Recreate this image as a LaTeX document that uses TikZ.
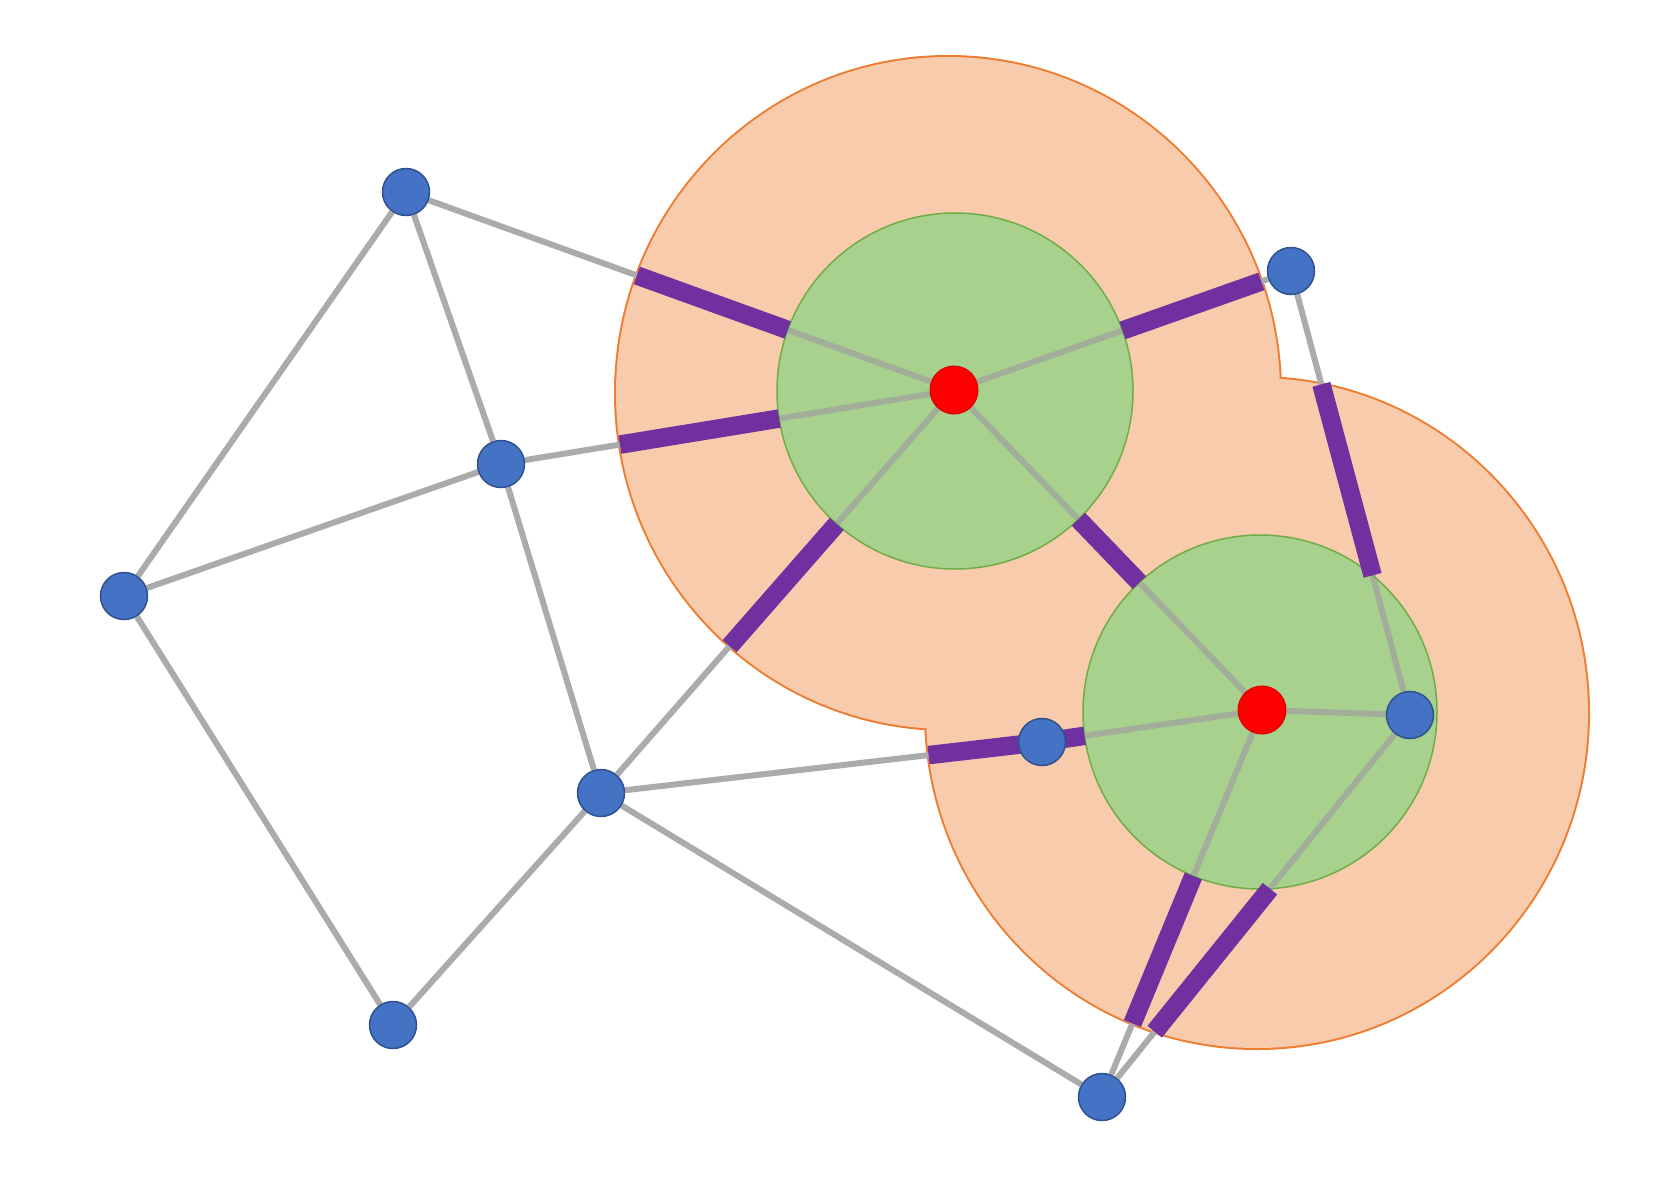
\documentclass[tikz,border=0pt]{standalone}
\usetikzlibrary{intersections}
\definecolor{ofill}{HTML}{F8CBAD}
\definecolor{oline}{HTML}{ED7D31}
\definecolor{gfill}{HTML}{A9D18E}
\definecolor{gline}{HTML}{70AD47}
\definecolor{nblue}{HTML}{4472C4}
\definecolor{nblueline}{HTML}{2F528F}
\definecolor{egray}{HTML}{ABABAB}
\definecolor{epurple}{HTML}{7030A0}
\pgfdeclarelayer{orangelayer}
\pgfdeclarelayer{edgelayer}
\pgfdeclarelayer{greenlayer}
\pgfdeclarelayer{purplelayer}
\pgfsetlayers{orangelayer,edgelayer,greenlayer,purplelayer,main}
\tikzset{
  bnode/.style={circle, fill=nblue, draw=nblueline, line width=0.03cm, minimum size=0.94cm, inner sep=0pt},
  rnode/.style={circle, fill=red, draw=red!85!black, line width=0.02cm, minimum size=0.96cm, inner sep=0pt},
  edge/.style={draw=egray, line width=0.12cm},
  edgein/.style={draw=egray!70!gfill!95!black, line width=0.12cm},
  pseg/.style={draw=epurple, line width=0.37cm},
  orangerim/.style={draw=oline, line width=0.08cm},
  greendisc/.style={fill=gfill, draw=gline, line width=0.03cm},
}
\newcommand\drawalledges[1]{%
  \draw[#1] (A) -- (B);
  \draw[#1] (A) -- (C);
  \draw[#1] (A) -- (R1);
  \draw[#1] (B) -- (C);
  \draw[#1] (B) -- (D);
  \draw[#1] (B) -- (R1);
  \draw[#1] (C) -- (E);
  \draw[#1] (D) -- (E);
  \draw[#1] (D) -- (R1);
  \draw[#1] (D) -- (G);
  \draw[#1] (D) -- (I);
  \draw[#1] (F) -- (R1);
  \draw[#1] (F) -- (H);
  \draw[#1] (G) -- (R2);
  \draw[#1] (R1) -- (R2);
  \draw[#1] (R2) -- (H);
  \draw[#1] (R2) -- (I);
  \draw[#1] (H) -- (I);
}
\begin{document}
\begin{tikzpicture}[x=0.02cm,y=-0.02cm]
\useasboundingbox (0,0) rectangle (1653,1177);
% nodes
\node[bnode] (A) at (406,192) {};
\node[bnode] (B) at (501,464) {};
\node[bnode] (C) at (124,596) {};
\node[bnode] (D) at (601,793) {};
\node[bnode] (E) at (393,1025) {};
\node[bnode] (F) at (1291,271) {};
\node[bnode] (G) at (1042,742) {};
\node[bnode] (H) at (1410,715) {};
\node[bnode] (I) at (1102,1097) {};
\node[rnode] (R1) at (954,390) {};
\node[rnode] (R2) at (1262,710) {};
% region outlines (for intersections)
\path[name path=o1] (948,393) ellipse [x radius=332, y radius=336];
\path[name path=o2] (1257,713) ellipse [x radius=331, y radius=335];
\path[name path=g1] (955,391) circle [radius=178];
\path[name path=g2] (1260,712) circle [radius=177];
% edge paths
\path[name path=eAR1] (A.center) -- (R1.center);
\path[name path=eBR1] (B.center) -- (R1.center);
\path[name path=eDR1] (D.center) -- (R1.center);
\path[name path=eFR1] (F.center) -- (R1.center);
\path[name path=eRR] (R1.center) -- (R2.center);
\path[name path=eFH] (F.center) -- (H.center);
\path[name path=eDG] (D.center) -- (G.center);
\path[name path=eGR] (G.center) -- (R2.center);
\path[name path=eRI] (R2.center) -- (I.center);
\path[name path=eHI] (H.center) -- (I.center);
% crossing points
\path[name intersections={of=eAR1 and o1, by={aO}}];
\path[name intersections={of=eAR1 and g1, by={aG}}];
\path[name intersections={of=eBR1 and o1, by={bO}}];
\path[name intersections={of=eBR1 and g1, by={bG}}];
\path[name intersections={of=eDR1 and o1, by={dO}}];
\path[name intersections={of=eDR1 and g1, by={dG}}];
\path[name intersections={of=eFR1 and o1, by={fO}}];
\path[name intersections={of=eFR1 and g1, by={fG}}];
\path[name intersections={of=eRR and g1, by={rA}}];
\path[name intersections={of=eRR and g2, by={rB}}];
\path[name intersections={of=eFH and o2, by={hO}}];
\path[name intersections={of=eFH and g2, by={hG}}];
\path[name intersections={of=eDG and o2, by={gO}}];
\path[name intersections={of=eGR and g2, by={gG}}];
\path[name intersections={of=eRI and g2, by={iG}}];
\path[name intersections={of=eRI and o2, by={iO}}];
\path[name intersections={of=eHI and g2, by={jG}}];
\path[name intersections={of=eHI and o2, by={jO}}];

\begin{pgfonlayer}{orangelayer}
  \draw[orangerim] (948,393) ellipse [x radius=332, y radius=336];
  \draw[orangerim] (1257,713) ellipse [x radius=331, y radius=335];
  \fill[ofill] (948,393) ellipse [x radius=332, y radius=336];
  \fill[ofill] (1257,713) ellipse [x radius=331, y radius=335];
\end{pgfonlayer}

\begin{pgfonlayer}{edgelayer}
  \drawalledges{edge}
\end{pgfonlayer}

\begin{pgfonlayer}{greenlayer}
  \path[greendisc] (955,391) circle [radius=178];
  \path[greendisc] (1260,712) circle [radius=177];
  \begin{scope}
    \clip (955,391) circle [radius=177];
    \drawalledges{edgein}
  \end{scope}
  \begin{scope}
    \clip (1260,712) circle [radius=176];
    \drawalledges{edgein}
  \end{scope}
\end{pgfonlayer}

\begin{pgfonlayer}{purplelayer}
  \draw[pseg] (aO) -- (aG);
  \draw[pseg] (bO) -- (bG);
  \draw[pseg] (dO) -- (dG);
  \draw[pseg] (fO) -- (fG);
  \draw[pseg] (rA) -- (rB);
  \draw[pseg] (hO) -- (hG);
  \draw[pseg] (gO) -- (G.center);
  \draw[pseg] (G.center) -- (gG);
  \draw[pseg] (iG) -- (iO);
  \draw[pseg] (jG) -- (jO);
\end{pgfonlayer}
\end{tikzpicture}
\end{document}
